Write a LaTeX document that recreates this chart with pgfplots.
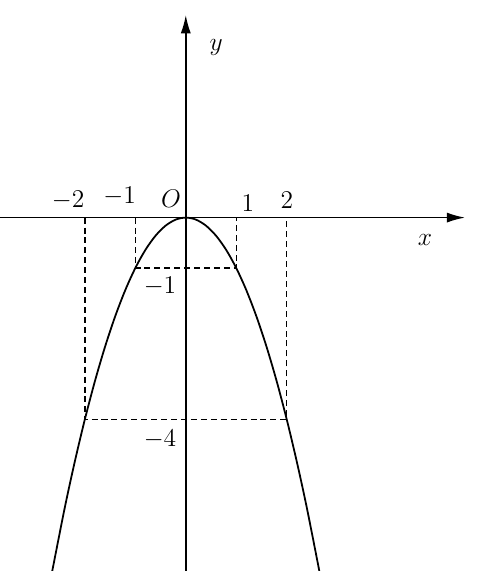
\documentclass[border=0pt]{standalone}
\usepackage{pgfplots}
\pgfplotsset{compat=1.18}
\usetikzlibrary{arrows.meta}

\tikzset{lbl/.style={font=\Large, inner sep=0pt}}

\begin{document}
\begin{tikzpicture}
\begin{axis}[
    x=1cm, y=1cm,
    axis lines=middle,
    xmin=-3.68, xmax=5.53,
    ymin=-7.0, ymax=4.01,
    xtick=\empty, ytick=\empty,
    axis line style={line width=0.8pt, -{Latex[length=3.6mm,width=2mm]}},
    clip=false,
]
% parabola y = -x^2
\addplot[black, line width=1pt, smooth] coordinates {
    (-2.645,-7.0) (-2.4,-5.76) (-2.2,-4.84) (-2,-4) (-1.8,-3.24)
    (-1.6,-2.56) (-1.4,-1.96) (-1.2,-1.44) (-1,-1) (-0.8,-0.64)
    (-0.6,-0.36) (-0.4,-0.16) (-0.2,-0.04) (0,0) (0.2,-0.04)
    (0.4,-0.16) (0.6,-0.36) (0.8,-0.64) (1,-1) (1.2,-1.44)
    (1.4,-1.96) (1.6,-2.56) (1.8,-3.24) (2,-4) (2.2,-4.84)
    (2.4,-5.76) (2.645,-7.0)
};
% dashed guides
\addplot[black, line width=0.8pt, dash pattern=on 3.4pt off 2.2pt]
    coordinates {(-2,0) (-2,-4) (2,-4) (2,0)};
\addplot[black, line width=0.8pt, dash pattern=on 3.4pt off 2.2pt]
    coordinates {(-1,0) (-1,-1) (1,-1) (1,0)};

\node[lbl] at (axis cs:-2.33,0.34) {$-2$};
\node[lbl] at (axis cs:-1.31,0.42) {$-1$};
\node[lbl] at (axis cs:-0.29,0.37) {$O$};
\node[lbl] at (axis cs:1.23,0.29) {$1$};
\node[lbl] at (axis cs:2.0,0.35) {$2$};
\node[lbl] at (axis cs:-0.51,-1.36) {$-1$};
\node[lbl] at (axis cs:-0.51,-4.4) {$-4$};
\node[lbl] at (axis cs:0.6,3.36) {$y$};
\node[lbl] at (axis cs:4.74,-0.44) {$x$};

\coordinate (bl) at (axis cs:-3.68,-7.0);
\coordinate (tr) at (axis cs:5.8,4.31);
\end{axis}
\pgfresetboundingbox
\path[use as bounding box] (bl) rectangle (tr);
\end{tikzpicture}
\end{document}
